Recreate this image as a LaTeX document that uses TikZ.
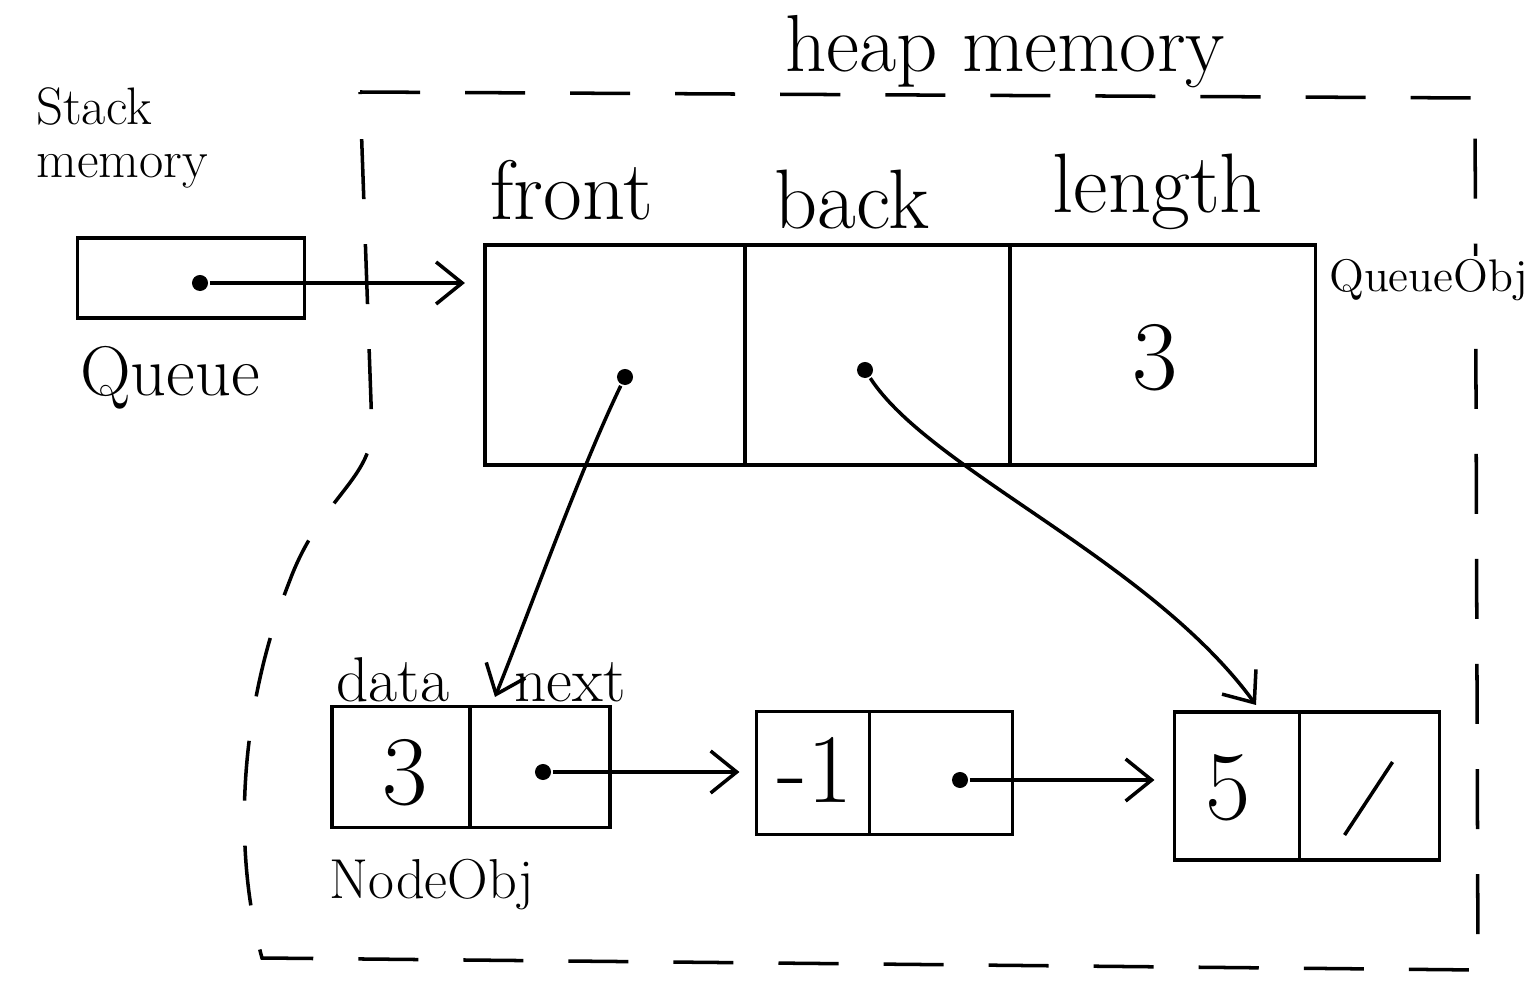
\documentclass[tikz,border=0pt]{standalone}
\usetikzlibrary{arrows.meta,calc}
\begin{document}
\begin{tikzpicture}[x=0.01cm,y=-0.01cm,line width=1pt,
  cell/.style={draw,minimum height=#1,inner sep=0pt,outer sep=0pt},
  ptr/.style={circle,fill,inner sep=0pt,minimum size=1.6mm},
  link/.style={-{Straight Barb[length=2.6mm,width=4.2mm]}},
  border/.style={dash pattern=on 0.6cm off 0.45cm},
  lbl/.style={font=\fontsize{24}{28}\selectfont},
  small/.style={font=\fontsize{16}{19}\selectfont},
  digit/.style={font=\fontsize{28}{32}\selectfont}]
\useasboundingbox (0,0) rectangle (1535,994);

% heap region
\draw[border] (360,92) -- (1475,98) -- (1478,970) -- (262,958)
  .. controls (235,860) and (235,720) .. (290,580)
  .. controls (320,500) and (370,480) .. (372,430) -- cycle;
\node[font=\fontsize{23}{27}\selectfont,anchor=base] (heap) at (1005,72) {heap memory};

% stack side
\node[font=\fontsize{15}{15}\selectfont,align=left] (stack) at (122,138) {Stack\\memory};
\node[cell=0.8cm,minimum width=2.27cm] (qbox) at (191,278) {};
\node[ptr] (qdot) at (200,283) {};
\node[font=\fontsize{20}{24}\selectfont] (qname) at (170,378) {Queue};

% queue object
\node[cell=2.2cm,minimum width=2.6cm] (fcell) at (615,355) {};
\node[cell=2.2cm,minimum width=2.65cm,anchor=west] (bcell) at (fcell.east) {};
\node[cell=2.2cm,minimum width=3.05cm,anchor=west] (lcell) at (bcell.east) {};
\node[lbl] (flbl) at (572,190) {front};
\node[lbl] (blbl) at (852,200) {back};
\node[lbl] (llbl) at (1158,192) {length};
\node[font=\fontsize{13}{16}\selectfont,anchor=west,fill=white,inner sep=1pt] (qobj) at (1324,280) {QueueObj};
\node[ptr] (fdot) at (625,377) {};
\node[ptr] (bdot) at (865,370) {};
\node[digit] (len) at (1155,358) {3};

% node objects
\node[cell=1.21cm,minimum width=1.38cm] (d1) at (401,767) {};
\node[cell=1.21cm,minimum width=1.40cm,anchor=west] (x1) at (d1.east) {};
\node[cell=1.23cm,minimum width=1.13cm] (d2) at (813,773) {};
\node[cell=1.23cm,minimum width=1.43cm,anchor=west] (x2) at (d2.east) {};
\node[cell=1.48cm,minimum width=1.25cm] (d3) at (1237,786) {};
\node[cell=1.48cm,minimum width=1.40cm,anchor=west] (x3) at (d3.east) {};

\node[digit] (v1) at (405,773) {3};
\node[digit] (v2) at (815,770) {-1};
\node[digit] (v3) at (1228,788) {5};
\draw ($(x3.center)+(-25,49)$) -- ($(x3.center)+(23,-24)$);

\node[font=\fontsize{18}{22}\selectfont] (dlbl) at (393,680) {data};
\node[font=\fontsize{18}{22}\selectfont] (nlbl) at (570,682) {next};
\node[small] (nobj) at (432,885) {NodeObj};

\node[ptr] (p1) at (543,772) {};
\node[ptr] (p2) at (960,780) {};

\coordinate (ftip) at (495,697);
\coordinate (btip) at (1256,705);

% connectors
\draw[link,shorten >=0.2cm] (qdot) -- (fcell.west |- qdot);
\draw[link] (fdot) .. controls (580,470) and (530,610) .. (ftip);
\draw[link] (bdot) .. controls (930,470) and (1150,560) .. (btip);
\draw[link,shorten >=0.17cm] (p1) -- (d2.west |- p1);
\draw[link,shorten >=0.2cm] (p2) -- (d3.west |- p2);
\end{tikzpicture}
\end{document}
